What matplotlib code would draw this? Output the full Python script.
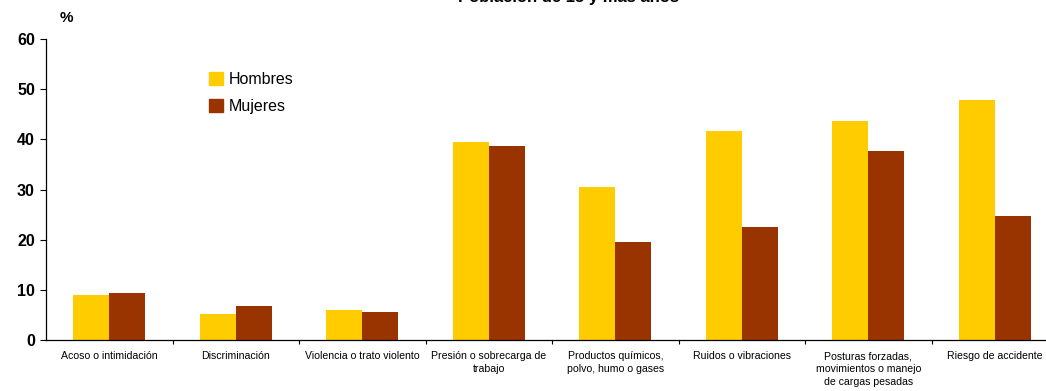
import matplotlib
matplotlib.use("Agg")
import matplotlib.pyplot as plt
import numpy as np
from matplotlib.patches import Patch

plt.rcParams['font.family'] = ['Liberation Sans', 'DejaVu Sans']

categories = ["Acoso o intimidación", "Discriminación", "Violencia o trato violento",
              "Presión o sobrecarga de\ntrabajo", "Productos químicos,\npolvo, humo o gases",
              "Ruidos o vibraciones", "Posturas forzadas,\nmovimientos o manejo\nde cargas pesadas",
              "Riesgo de accidente"]
hombres = [9.0, 5.2, 6.0, 39.5, 30.5, 41.7, 43.6, 47.9]
mujeres = [9.3, 6.7, 5.6, 38.7, 19.5, 22.5, 37.7, 24.7]
series_names = ["Hombres", "Mujeres"]
colors = ["#FFCC00", "#993300"]
title = "Población de 15 y más años"
yticks = [0, 10, 20, 30, 40, 50, 60]

W, H = 1046, 391
fig = plt.figure(figsize=(W/100, H/100), dpi=100)
left_px, right_px = 46, 46 + 8*126.5
top_px, bot_px = 39, 340
ax = fig.add_axes([left_px/W, 1 - bot_px/H, (right_px-left_px)/W, (bot_px-top_px)/H])

x = np.arange(len(categories))
bw = 0.285
ax.bar(x - bw/2, hombres, bw, color=colors[0], label=series_names[0])
ax.bar(x + bw/2, mujeres, bw, color=colors[1], label=series_names[1])

ax.set_xlim(-0.5, len(categories) - 0.5)
ax.set_ylim(0, 60)
ax.set_yticks(yticks)
ax.set_yticklabels([str(v) for v in yticks], fontsize=11.5, fontweight='bold')
ax.tick_params(axis='y', length=4, width=0.8, direction='out', pad=4)

ax.set_xticks(x)
ax.set_xticklabels(categories, fontsize=7.6, linespacing=1.35)
ax.tick_params(axis='x', length=0, pad=8)
ax.set_xticks(np.arange(0.5, len(categories) - 0.5, 1), minor=True)
ax.tick_params(axis='x', which='minor', length=3, width=0.8, direction='out')

for s in ['top', 'right']:
    ax.spines[s].set_visible(False)
for s in ['left', 'bottom']:
    ax.spines[s].set_linewidth(0.9)
    ax.spines[s].set_color('black')

handles = [Patch(color=colors[0]), Patch(color=colors[1])]
ax.legend(handles, series_names, loc='upper left',
          bbox_to_anchor=((203 - left_px)/(right_px-left_px), 1 - (66 - top_px)/(bot_px-top_px)),
          frameon=False, fontsize=11.5, handlelength=0.85, handleheight=0.85,
          handletextpad=0.35, labelspacing=0.75, borderaxespad=0)

fig.text(66/W, 1 - 18/H, "%", fontsize=11, fontweight='bold', ha='center', va='center')
fig.text(568/W, 1 - (-2)/H, title, fontsize=12, fontweight='bold', ha='center', va='center')

fig.savefig("out.png", dpi=100)
